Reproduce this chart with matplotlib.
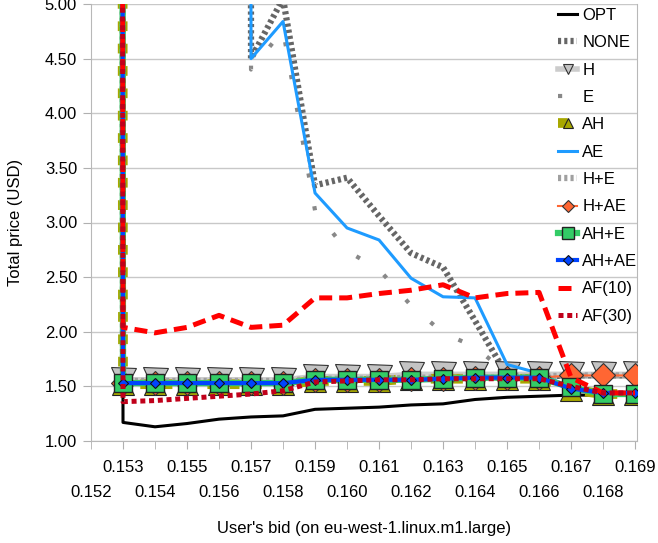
import numpy as np
import matplotlib
matplotlib.use('Agg')
import matplotlib.pyplot as plt
from matplotlib.lines import Line2D

plt.rcParams['font.family'] = ['Liberation Sans', 'DejaVu Sans']

nan = np.nan
BIG = 300.0  # bids that are too low: price far above the plotted range

bids = ['0.152', '0.153', '0.154', '0.155', '0.156', '0.157', '0.158', '0.159', '0.160',
        '0.161', '0.162', '0.163', '0.164', '0.165', '0.166', '0.167', '0.168', '0.169']

opt = [BIG, 1.17, 1.13, 1.16, 1.20, 1.22, 1.23, 1.29, 1.30, 1.31, 1.33, 1.34, 1.38, 1.40, 1.41, 1.42, 1.42, 1.42]
none = [nan, nan, nan, nan, BIG, 4.50, 5.05, 3.34, 3.41, 3.06, 2.72, 2.59, 2.10, 1.60, 1.59, 1.60, 1.60, 1.60]
h = [BIG, 1.56, 1.56, 1.56, 1.56, 1.56, 1.56, 1.59, 1.59, 1.59, 1.61, 1.61, 1.61, 1.61, 1.61, 1.61, 1.61, 1.61]
e = [nan, nan, nan, nan, BIG, 4.40, 4.76, 3.11, 2.74, 2.57, 2.24, 1.99, 1.86, 1.62, 1.58, 1.60, 1.60, 1.60]
ah = [BIG, 1.52, 1.52, 1.52, 1.52, 1.52, 1.52, 1.55, 1.55, 1.55, 1.57, 1.57, 1.57, 1.57, 1.57, 1.47, 1.43, 1.43]
ae = [nan, nan, nan, nan, BIG, 4.50, 4.84, 3.27, 2.95, 2.84, 2.49, 2.32, 2.31, 1.70, 1.62, 1.49, 1.44, 1.44]
h_e = [BIG, 1.55, 1.55, 1.55, 1.55, 1.55, 1.55, 1.57, 1.57, 1.57, 1.58, 1.58, 1.58, 1.58, 1.59, 1.60, 1.60, 1.60]
h_ae = [BIG, 1.53, 1.53, 1.53, 1.53, 1.53, 1.53, 1.56, 1.56, 1.56, 1.57, 1.57, 1.58, 1.58, 1.58, 1.60, 1.60, 1.60]
ah_e = [BIG, 1.53, 1.53, 1.53, 1.53, 1.53, 1.53, 1.56, 1.56, 1.56, 1.56, 1.57, 1.58, 1.58, 1.58, 1.49, 1.43, 1.43]
ah_ae = [BIG, 1.53, 1.53, 1.53, 1.53, 1.53, 1.53, 1.56, 1.56, 1.56, 1.56, 1.57, 1.58, 1.58, 1.58, 1.48, 1.44, 1.44]
af10 = [BIG, 2.04, 1.99, 2.04, 2.15, 2.04, 2.06, 2.31, 2.31, 2.35, 2.38, 2.43, 2.31, 2.35, 2.36, 1.58, 1.44, 1.44]
af30 = [BIG, 1.36, 1.37, 1.39, 1.41, 1.43, 1.46, 1.54, 1.55, 1.56, 1.56, 1.57, 1.57, 1.57, 1.57, 1.50, 1.44, 1.44]

x = np.arange(len(bids))

fig = plt.figure(figsize=(6.58, 5.43), dpi=100)
ax = fig.add_axes([91 / 658, 1 - 441 / 543, 546 / 658, 437 / 543])

# (label, values, line kwargs, legend marker size)
series = [
    ('OPT', opt, dict(color='black', lw=2.2), None),
    ('NONE', none, dict(color='#666666', lw=4.5, dashes=(0.5, 0.5)), None),
    ('H', h, dict(color='#CCCCCC', lw=4, marker='v', ms=18, mfc='#C4C4C4', mec='#333333', mew=0.8), 7),
    ('E', e, dict(color='#888888', lw=3, dashes=(1, 7)), None),
    ('AH', ah, dict(color='#A8A800', lw=7, dashes=(1, 1.3), marker='^', ms=16, mfc='#A8A800', mec='#222222', mew=0.8), 7),
    ('AE', ae, dict(color='#1E9BFF', lw=2.2), None),
    ('H+E', h_e, dict(color='#A0A0A0', lw=4.5, dashes=(0.5, 0.5)), None),
    ('H+AE', h_ae, dict(color='#FF6633', lw=1.5, marker='D', ms=12.5, mfc='#FF6633', mec='#333333', mew=0.8), 6),
    ('AH+E', ah_e, dict(color='#33CC66', lw=4.5, marker='s', ms=12.5, mfc='#33CC66', mec='#222222', mew=1), 8),
    ('AH+AE', ah_ae, dict(color='#0044FF', lw=3, marker='D', ms=5.5, mfc='#0044FF', mec='#111111', mew=0.8), 5),
    ('AF(10)', af10, dict(color='#FF0000', lw=3.6, dashes=(2.6, 1.4)), None),
    ('AF(30)', af30, dict(color='#C0001A', lw=3.6, dashes=(1, 0.75)), None),
]

handles = []
for i, (name, vals, kw, lms) in enumerate(series):
    ax.plot(x, vals, zorder=3 + i, **kw)
    hk = dict(kw)
    if lms is not None:
        hk['ms'] = lms
    handles.append(Line2D([], [], **hk))

ax.set_xlim(0, 17.06)
ax.set_ylim(1, 5)
ax.set_yticks(np.arange(1.0, 5.01, 0.5))
ax.set_yticklabels(['%.2f' % v for v in np.arange(1.0, 5.01, 0.5)], fontsize=12)

odd = x[1::2]
even = x[0::2]
ax.set_xticks(odd)
ax.set_xticklabels([bids[i] for i in odd], fontsize=12)
ax.set_xticks(even, minor=True)
ax.set_xticklabels([bids[i] for i in even], minor=True, fontsize=12)
ax.tick_params(axis='x', which='major', length=6, color='#B0B0B0', pad=7.5)
ax.tick_params(axis='x', which='minor', length=6, color='#B0B0B0', pad=26)
ax.tick_params(axis='y', length=6, color='#B0B0B0', pad=4)

ax.grid(axis='y', color='#C8C8C8', lw=1)
ax.set_axisbelow(True)
for side in ['left', 'right', 'bottom']:
    ax.spines[side].set_color('#B8B8B8')
ax.spines['top'].set_visible(False)

ax.set_ylabel('Total price (USD)', fontsize=12)
ax.yaxis.set_label_coords(-0.125, 0.5)
ax.set_xlabel("User's bid (on eu-west-1.linux.m1.large)", fontsize=12)
ax.xaxis.set_label_coords(0.5, -0.183)

fig.legend(handles, [s[0] for s in series], loc='upper left',
           bbox_to_anchor=(558 / 658, 1 - 8 / 543), frameon=False, fontsize=12,
           handlelength=1.15, handletextpad=0.3, labelspacing=0.74,
           borderpad=0, borderaxespad=0)

fig.savefig('out.png', dpi=100)
